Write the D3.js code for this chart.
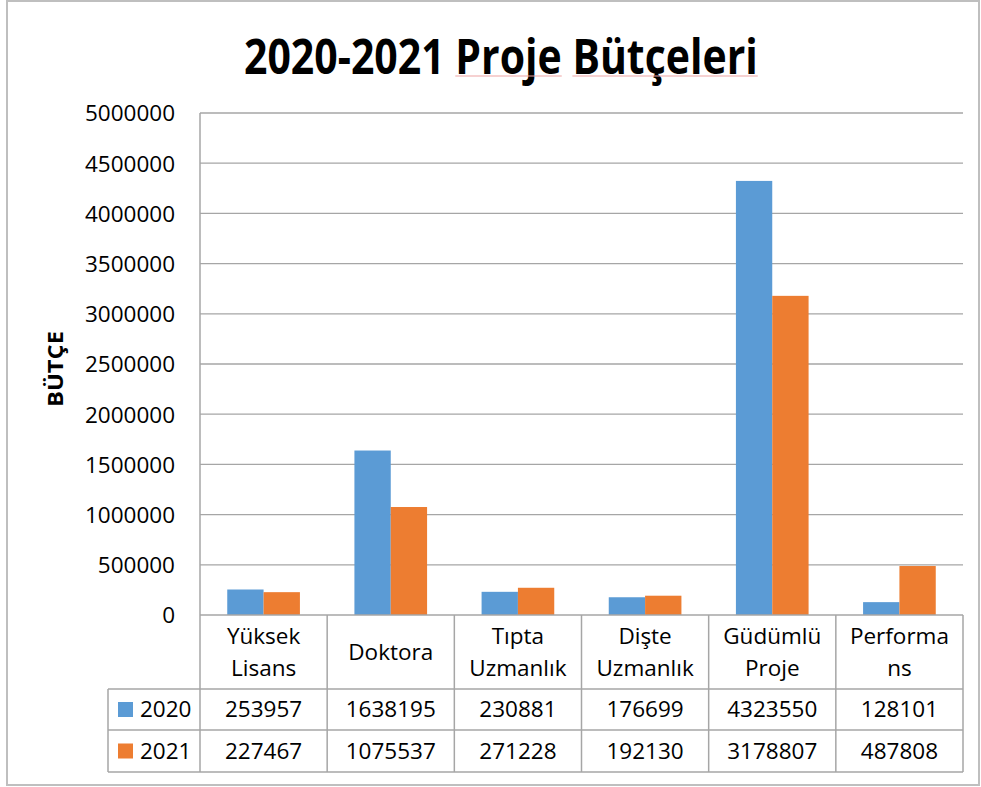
<!DOCTYPE html>
<html><head><meta charset="utf-8">
<script src="https://cdn.jsdelivr.net/npm/d3@7"></script>
<style>
html,body{margin:0;padding:0;background:#fff;}
svg{display:block;}
text{font-family:"Open Sans","Noto Sans",sans-serif;fill:#000;}
</style></head>
<body>
<svg id="c" width="981" height="787"></svg>
<script>
const categories = [["Yüksek","Lisans"],["Doktora"],["Tıpta","Uzmanlık"],["Dişte","Uzmanlık"],["Güdümlü","Proje"],["Performa","ns"]];
const seriesNames = ["2020","2021"];
const values2020 = [253957,1638195,230881,176699,4323550,128101];
const values2021 = [227467,1075537,271228,192130,3178807,487808];
const yTicks = [0,500000,1000000,1500000,2000000,2500000,3000000,3500000,4000000,4500000,5000000];
const colors = ["#5B9BD5","#ED7D31"];
const titleParts = ["2020-2021","Proje","Bütçeleri"];
const yTitle = "BÜTÇE";

const svg = d3.select("#c");
const L=200, R=963, T=113, B=615;
const rowH1=689, rowH2=730, rowH3=772, legL=108;
const gridC="#a6a6a6";
const fs="22.5px";

// outer border
svg.append("rect").attr("x",7).attr("y",1).attr("width",972).attr("height",784)
  .attr("fill","none").attr("stroke","#bfbfbf").attr("stroke-width",2);

const idx = d3.range(categories.length);
const x = d3.scaleBand().domain(idx).range([L,R]).padding(0);
const xs = d3.scaleBand().domain([0,1]).range([0,x.bandwidth()]).paddingInner(0).paddingOuter(0.75);
const y = d3.scaleLinear().domain([0,5000000]).range([B,T]);

// gridlines
svg.append("g").selectAll("line").data(yTicks.filter(d=>d>0)).join("line")
  .attr("x1",L).attr("x2",R).attr("y1",d=>y(d)).attr("y2",d=>y(d))
  .attr("stroke",gridC).attr("stroke-width",1.3);

// y axis via d3
const ya = svg.append("g").attr("transform",`translate(${L},0)`)
  .call(d3.axisLeft(y).tickValues(yTicks).tickSize(0).tickPadding(25).tickFormat(d3.format("d")));
ya.select(".domain").remove();
ya.selectAll("text").style("font-size",fs).attr("font-family","Open Sans").attr("dy","0.35em");

// bars
const series=[values2020,values2021];
series.forEach((vals,s)=>{
  svg.append("g").selectAll("rect").data(vals).join("rect")
    .attr("x",(d,i)=>x(i)+xs(s)).attr("width",xs.bandwidth())
    .attr("y",d=>y(d)).attr("height",d=>B-y(d)).attr("fill",colors[s]);
});

// table lines
const tg=svg.append("g").attr("stroke",gridC).attr("stroke-width",1.5);
tg.append("line").attr("x1",L).attr("x2",L).attr("y1",T).attr("y2",rowH3);
tg.append("line").attr("x1",L).attr("x2",R).attr("y1",B).attr("y2",B);
idx.forEach(i=>{
  tg.append("line").attr("x1",x(i)+x.bandwidth()).attr("x2",x(i)+x.bandwidth()).attr("y1",B).attr("y2",rowH3);
});
[rowH1,rowH2,rowH3].forEach(yy=>tg.append("line").attr("x1",legL).attr("x2",R).attr("y1",yy).attr("y2",yy));
tg.append("line").attr("x1",legL).attr("x2",legL).attr("y1",rowH1).attr("y2",rowH3);

// category labels
categories.forEach((c,i)=>{
  const cx=x(i)+x.bandwidth()/2;
  const cy=(B+rowH1)/2;
  const lh=32;
  c.forEach((t,k)=>{
    svg.append("text").attr("x",cx).attr("y",cy+(k-(c.length-1)/2)*lh).attr("dy","0.35em")
      .attr("text-anchor","middle").style("font-size",fs).text(t);
  });
});

// values rows
series.forEach((vals,s)=>{
  const r0=s===0?rowH1:rowH2, r1=s===0?rowH2:rowH3, cy=(r0+r1)/2;
  vals.forEach((v,i)=>{
    svg.append("text").attr("x",x(i)+x.bandwidth()/2).attr("y",cy).attr("dy","0.35em")
      .attr("text-anchor","middle").style("font-size",fs).text(v);
  });
  svg.append("rect").attr("x",118).attr("y",cy-7.5).attr("width",15).attr("height",15).attr("fill",colors[s]);
  svg.append("text").attr("x",140).attr("y",cy).attr("dy","0.35em").style("font-size",fs).text(seriesNames[s]);
});

// title (condensed horizontally to mimic the narrow bold face)
const tG=svg.append("g");
const tt=tG.append("text").attr("x",0).attr("y",0)
  .style("font-size","49px").style("font-weight","bold");
const spans=titleParts.map((p,k)=>tt.append("tspan").text((k?" ":"")+p));
const bb=tt.node().getBBox();
const sx=514/bb.width;
tG.attr("transform",`translate(244,74) scale(${sx},1) translate(${-bb.x},0)`);
// spell-check style underline under the last two words
[1,2].forEach(k=>{
  const n=spans[k].node();
  const start=n.getStartPositionOfChar(1), endC=n.getEndPositionOfChar(n.getNumberOfChars()-1);
  tG.append("line").attr("x1",start.x).attr("x2",endC.x).attr("y1",2).attr("y2",2)
    .attr("stroke","#eea3a3").attr("stroke-width",1.2/1);
});

// y title
const yt=svg.append("g");
const ytt=yt.append("text").attr("text-anchor","middle").attr("dy","0.35em")
  .style("font-size","21px").style("font-weight","bold").text(yTitle);
const yb=ytt.node().getBBox();
yt.attr("transform",`translate(56,369) rotate(-90) scale(${76/yb.width},1)`);
</script>
</body></html>
